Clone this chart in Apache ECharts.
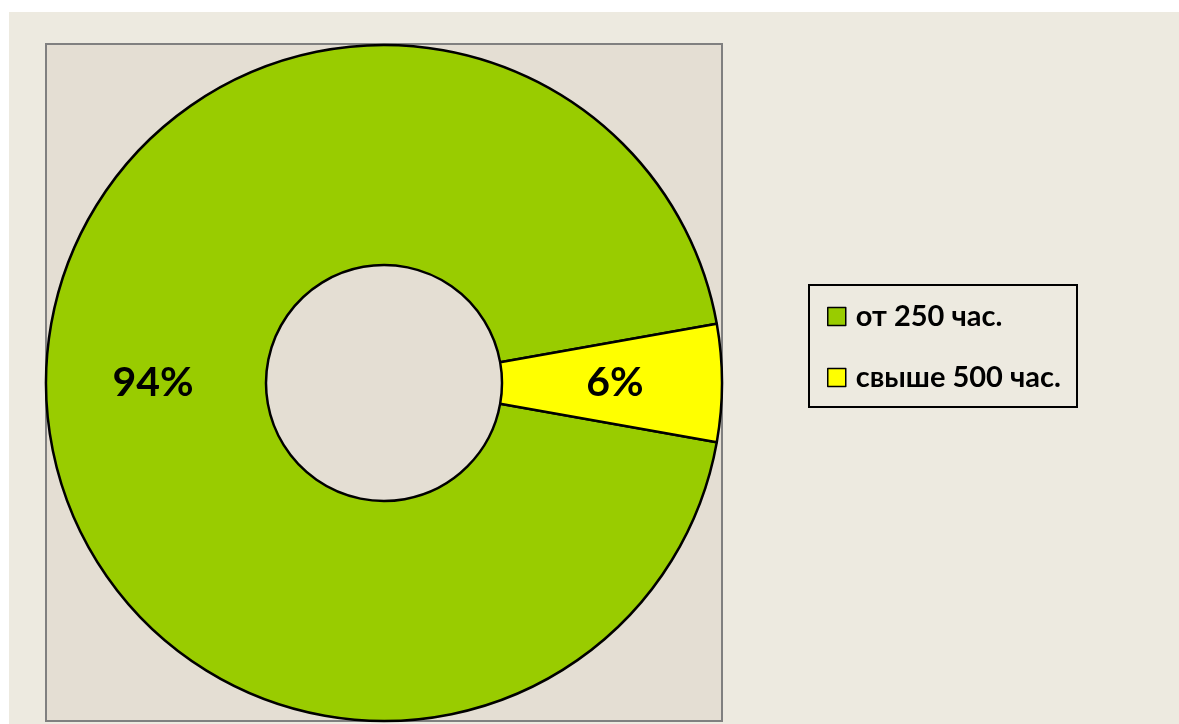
<!DOCTYPE html>
<html>
<head>
<meta charset="utf-8">
<script src="https://cdn.jsdelivr.net/npm/echarts@6/dist/echarts.min.js"></script>
<style>
html,body{margin:0;padding:0;background:#ffffff;}
#main{width:1179px;height:724px;}
</style>
</head>
<body>
<div id="main"></div>
<script>
const categories = ['от 250 час.', 'свыше 500 час.'];
const values = [94.4, 5.6];
const colors = ['#99cc00', '#ffff00'];

const chart = echarts.init(document.getElementById('main'), null, {renderer: 'canvas'});
const FONT = 'Lato, "Open Sans", sans-serif';

chart.setOption({
  animation: false,
  graphic: [
    {type: 'rect', silent: true, z: -10, shape: {x: 9, y: 12, width: 1170, height: 712}, style: {fill: '#edeae0'}},
    {type: 'rect', silent: true, z: -9, shape: {x: 46, y: 44, width: 676, height: 677}, style: {fill: '#e4ded3', stroke: '#808080', lineWidth: 2}},
    {type: 'rect', silent: true, z: -9, shape: {x: 809, y: 285, width: 268, height: 122}, style: {fill: '#edeae0', stroke: '#000000', lineWidth: 2}}
  ],
  legend: {
    orient: 'vertical',
    left: 827,
    top: 302,
    padding: 0,
    itemWidth: 18,
    itemHeight: 18,
    itemGap: 32,
    icon: 'rect',
    data: categories,
    itemStyle: {borderColor: '#000', borderWidth: 1.5},
    textStyle: {fontFamily: FONT, fontWeight: 'bold', fontSize: 29, color: '#000', lineHeight: 18, padding: [0, 0, 0, 5]}
  },
  series: [{
    type: 'pie',
    center: [384, 383],
    radius: [118, 338],
    startAngle: 349.92,
    clockwise: true,
    avoidLabelOverlap: false,
    itemStyle: {borderColor: '#000', borderWidth: 2.5},
    label: {
      show: true,
      position: 'inside',
      formatter: p => Math.round(p.percent) + '%',
      fontFamily: FONT,
      fontWeight: 'bold',
      fontSize: 41,
      color: '#000',
      padding: [8, 0, 0, 0]
    },
    labelLine: {show: false},
    emphasis: {disabled: true},
    data: categories.map((c, i) => ({name: c, value: values[i], itemStyle: {color: colors[i]}}))
  }]
});
</script>
</body>
</html>
